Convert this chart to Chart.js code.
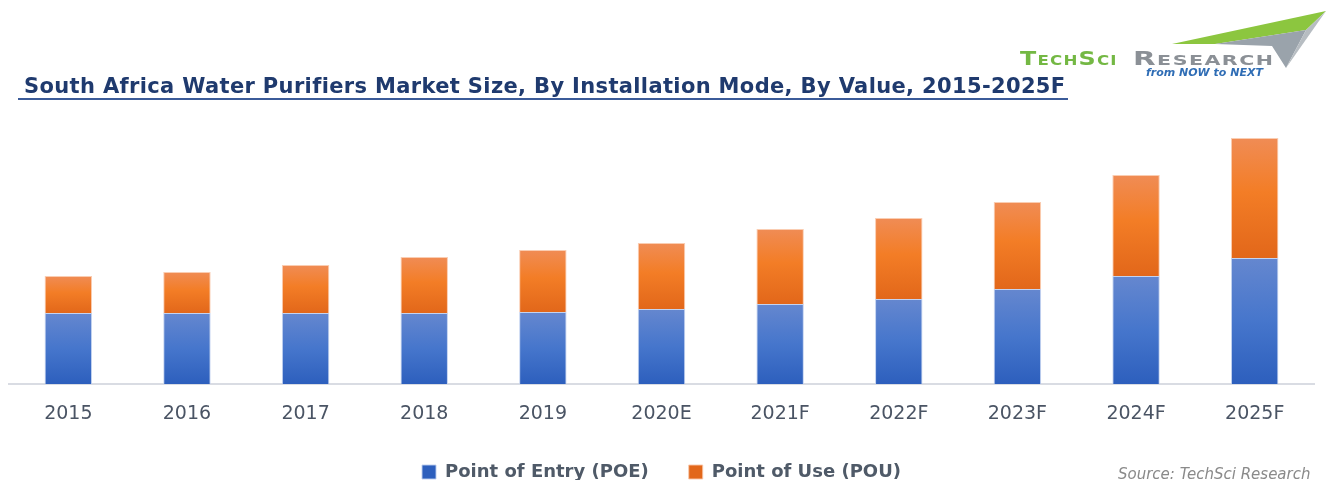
<!DOCTYPE html>
<html>
<head>
<meta charset="utf-8">
<script src="https://cdn.jsdelivr.net/npm/chart.js@4.4.0/dist/chart.umd.min.js"></script>
<style>
body { margin: 0; background: #fff; }
#wrap { position: relative; width: 1328px; height: 480px; overflow: hidden; }
#myChart { position: absolute; left: 0; top: 0; }
.title { position: absolute; left: 24px; top: 74px; font: bold 21px "DejaVu Sans", Verdana, sans-serif; letter-spacing: 0.35px; color: #1f3a6e; white-space: nowrap; }
.rule { position: absolute; left: 18px; top: 98px; width: 1050px; height: 0; border-top: 2px solid #3b5b99; }
.logo { position: absolute; top: 46px; font: bold 20px "DejaVu Sans", sans-serif; font-variant: small-caps; letter-spacing: 1px; white-space: nowrap; transform-origin: 0 0; }
.logo.g { left: 1020px; color: #74b844; transform: scaleX(1.19); }
.logo.k { left: 1133px; color: #8b9096; transform: scaleX(1.47); }
.logo2 { position: absolute; left: 1146px; top: 66px; font: italic bold 11px "DejaVu Sans", sans-serif; color: #2f6db5; white-space: nowrap; }
.source { position: absolute; left: 1118px; top: 465px; font: italic 15px "DejaVu Sans", sans-serif; color: #8a8a8a; white-space: nowrap; }
svg { position: absolute; left: 0; top: 0; }
</style>
</head>
<body>
<div id="wrap">
  <canvas id="myChart" width="1328" height="480"></canvas>
  <svg width="1328" height="90">
    <polygon points="1172,44 1326,11 1306,30 1215,44" fill="#8cc63f"/>
    <polygon points="1215,44 1306,30 1286,68 1272,46" fill="#9aa3ab"/>
    <polygon points="1306,30 1326,11 1286,68" fill="#b7bdc2"/>
  </svg>
  <div class="title">South Africa Water Purifiers Market Size, By Installation Mode, By Value, 2015-2025F</div>
  <div class="rule"></div>
  <div class="logo g">TechSci</div>
  <div class="logo k">Research</div>
  <div class="logo2">from NOW to NEXT</div>
  <div class="source">Source: TechSci Research</div>
</div>
<script>
// values (relative units, no axis shown)
const years = ["2015", "2016", "2017", "2018", "2019", "2020E", "2021F", "2022F", "2023F", "2024F", "2025F"];
const poe = [71, 71, 71, 71, 72, 75, 80, 85, 95, 108, 126];
const pou = [37, 41, 48, 56, 62, 66, 75, 81, 87, 101, 120];

const blueStops = [[0, "#6587cf"], [0.5, "#4676cc"], [1, "#2d5fbd"]];
const orangeStops = [[0, "#f08c55"], [0.45, "#f37d26"], [1, "#e2671a"]];

// gradient per bar segment, top to bottom
function barFill(stops, fallback, base) {
    return function (ctx) {
        const chart = ctx.chart;
        if (ctx.type !== "data" || !chart.chartArea) return fallback;
        const y = chart.scales.y;
        const i = ctx.dataIndex;
        const lo = base ? base[i] : 0;
        const hi = lo + ctx.dataset.data[i];
        const g = chart.ctx.createLinearGradient(0, y.getPixelForValue(hi), 0, y.getPixelForValue(lo));
        stops.forEach(function (s) { g.addColorStop(s[0], s[1]); });
        return g;
    };
}

const config = {
    type: "bar",
    data: {
        labels: years,
        datasets: [
            {
                label: "Point of Entry (POE)",
                data: poe,
                backgroundColor: barFill(blueStops, "#4472c4"),
                borderColor: "rgba(190,206,238,0.9)",
                borderWidth: 1,
                barPercentage: 0.4,
                categoryPercentage: 1,
            },
            {
                label: "Point of Use (POU)",
                data: pou,
                backgroundColor: barFill(orangeStops, "#ed7d31", poe),
                borderColor: "rgba(250,200,170,0.9)",
                borderWidth: 1,
                barPercentage: 0.4,
                categoryPercentage: 1,
            },
        ],
    },
    options: {
        responsive: false,
        animation: false,
        layout: {
            padding: { top: 124, left: 9, right: 14, bottom: -11 },
        },
        scales: {
            x: {
                stacked: true,
                grid: { display: false },
                border: { color: "#d9dce3", width: 2 },
                ticks: {
                    color: "#4a5464",
                    font: { family: "DejaVu Sans", size: 19 },
                    padding: 11,
                },
                afterFit: function (axis) { axis.height = 39; },
            },
            y: {
                stacked: true,
                display: false,
                min: 0,
                max: 260,
            },
        },
        plugins: {
            legend: {
                position: "bottom",
                labels: {
                    boxWidth: 14,
                    boxHeight: 14,
                    padding: 40,
                    color: "#4f5a68",
                    font: { family: "DejaVu Sans", size: 18, weight: "bold" },
                },
            },
            tooltip: { enabled: false },
        },
    },
};

const ctx1 = document.getElementById("myChart").getContext("2d");
const chart = new Chart(ctx1, config);
</script>
</body>
</html>
